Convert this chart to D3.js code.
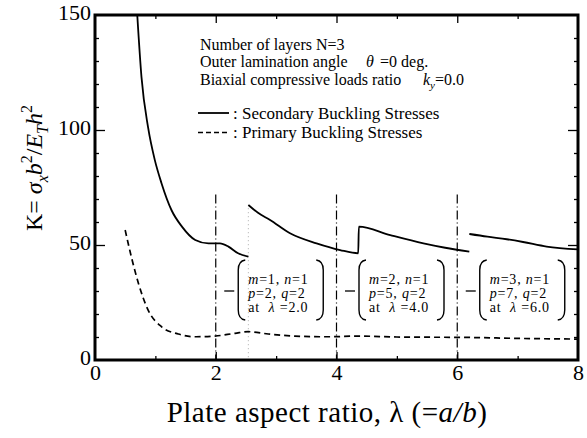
<!DOCTYPE html>
<html>
<head>
<meta charset="utf-8">
<script src="https://cdn.jsdelivr.net/npm/d3@7"></script>
<style>
  body { margin: 0; background: #fff; }
  svg { display: block; font-family: "Liberation Serif", "Times New Roman", serif; }
</style>
</head>
<body>
<div id="chart"></div>
<script>
// secondary buckling curve (lambda, K)
const seg1X = [0.70, 0.77, 0.88, 0.99, 1.10, 1.27, 1.44, 1.66, 1.88, 2.07, 2.21, 2.37, 2.54];
const seg1K = [150, 123, 101, 87, 77, 65, 58, 52.2, 50.7, 50.7, 49.3, 46.4, 44.9];
const seg2X = [2.54, 2.70, 2.90, 3.23, 3.67, 4.06, 4.36, 4.37, 4.89, 5.44, 5.80, 6.20];
const seg2K = [67.4, 64.0, 60.9, 55.1, 50.7, 47.8, 46.4, 58.0, 54.3, 50.7, 48.8, 47.1];
const seg4X = [6.20, 6.50, 6.82, 7.09, 7.48, 8.00];
const seg4K = [54.8, 53.6, 52.5, 51.3, 49.3, 48.1];

// primary buckling curve
const primX = [0.50, 0.61, 0.72, 0.88, 1.10, 1.38, 1.66, 1.99, 2.32, 2.54, 2.87, 3.31, 3.86, 4.37, 5.0, 6.2, 7.0, 8.0];
const primK = [56.5, 44, 33.3, 21.7, 14.5, 11.3, 10.1, 10.4, 11.6, 12.3, 11.3, 10.4, 10.1, 10.4, 10.0, 9.8, 9.4, 9.1];

// mode boxes
const boxLambda = [2, 4, 6];
const boxM = [1, 2, 3];
const boxN = [1, 1, 1];
const boxP = [2, 5, 7];
const boxQ = [2, 2, 2];

const xTicks = [0, 2, 4, 6, 8];
const yTicks = [0, 50, 100, 150];

const W = 587, H = 438;
const svg = d3.select('#chart').append('svg').attr('width', W).attr('height', H);

const x = d3.scaleLinear().domain([0, 8]).range([95, 578]);
const y = d3.scaleLinear().domain([0, 150]).range([360, 15]);

const line = d3.line().x(d => x(d[0])).y(d => y(d[1])).curve(d3.curveMonotoneX);
const zip = (a, b) => a.map((v, i) => [v, b[i]]);

// ticks (inward, all four sides)
function ticks(axis, tr, vals, size) {
  svg.append('g').attr('transform', tr)
    .call(axis.tickValues(vals).tickSize(size).tickFormat(''))
    .call(g => g.select('.domain').remove())
    .selectAll('line').attr('stroke', '#000').attr('stroke-width', 1.3);
}
const yMinor = d3.range(10, 150, 10).filter(v => v % 50);
ticks(d3.axisLeft(y), 'translate(95,0)', yMinor, -4);
ticks(d3.axisLeft(y), 'translate(95,0)', [50, 100], -10);
ticks(d3.axisRight(y), 'translate(578,0)', yMinor, -4);
ticks(d3.axisRight(y), 'translate(578,0)', [50, 100], -10);
ticks(d3.axisBottom(x), 'translate(0,360)', [1, 3, 5, 7], -4);
ticks(d3.axisBottom(x), 'translate(0,360)', [2, 4, 6], -8);
ticks(d3.axisTop(x), 'translate(0,15)', [1, 3, 5, 7], -4);
ticks(d3.axisTop(x), 'translate(0,15)', [2, 4, 6], -8);

// tick labels
svg.append('g').attr('transform', 'translate(95,0)')
  .call(d3.axisLeft(y).tickValues(yTicks).tickSize(0).tickPadding(4))
  .call(g => g.select('.domain').remove())
  .selectAll('text').attr('font-size', 22).attr('font-family', '"Liberation Serif", serif')
  .attr('fill', '#000').attr('dy', '0.22em');
svg.append('g').attr('transform', 'translate(0,360)')
  .call(d3.axisBottom(x).tickValues(xTicks).tickSize(0).tickPadding(4))
  .call(g => g.select('.domain').remove())
  .selectAll('text').attr('font-size', 22).attr('font-family', '"Liberation Serif", serif')
  .attr('fill', '#000');

// vertical reference lines at lambda = 2, 4, 6
svg.selectAll('.vref').data(boxLambda).enter().append('line')
  .attr('x1', d => x(d)).attr('x2', d => x(d))
  .attr('y1', y(72)).attr('y2', y(0))
  .attr('stroke', '#000').attr('stroke-width', 1.2)
  .attr('stroke-dasharray', '9,3,1,3');
svg.append('line')
  .attr('x1', x(2.54)).attr('x2', x(2.54)).attr('y1', y(66)).attr('y2', y(0))
  .attr('stroke', '#999').attr('stroke-width', 0.8).attr('stroke-dasharray', '1,3');

// curves
[zip(seg1X, seg1K), zip(seg2X, seg2K), zip(seg4X, seg4K)].forEach(s => {
  svg.append('path').attr('d', line(s)).attr('fill', 'none')
    .attr('stroke', '#000').attr('stroke-width', 1.8);
});
svg.append('path').attr('d', line(zip(primX, primK))).attr('fill', 'none')
  .attr('stroke', '#000').attr('stroke-width', 1.7).attr('stroke-dasharray', '6,4');

// frame
svg.append('rect').attr('x', 95).attr('y', 15).attr('width', 483).attr('height', 345)
  .attr('fill', 'none').attr('stroke', '#000').attr('stroke-width', 3);

// mode boxes
const boxTop = 260, boxBot = 320, bw = 85;
boxLambda.forEach((lam, i) => {
  const x0 = x(lam) + 22.5, x1 = x0 + bw;
  const g = svg.append('g');
  g.append('path')
    .attr('d', `M${x0 + 7},${boxTop} Q${x0},${boxTop + 1} ${x0},${boxTop + 10} L${x0},${boxBot - 10} Q${x0},${boxBot - 1} ${x0 + 7},${boxBot}` +
      `M${x1 - 7},${boxTop} Q${x1},${boxTop + 1} ${x1},${boxTop + 10} L${x1},${boxBot - 10} Q${x1},${boxBot - 1} ${x1 - 7},${boxBot}`)
    .attr('fill', 'none').attr('stroke', '#000').attr('stroke-width', 1.4);
  g.append('line').attr('x1', x0 - 14).attr('x2', x0 - 4).attr('y1', 291).attr('y2', 291)
    .attr('stroke', '#000').attr('stroke-width', 1.3);
  const rows = [
    [['m', 1], ['=' + boxM[i] + ', ', 0], ['n', 1], ['=' + boxN[i], 0]],
    [['p', 1], ['=' + boxP[i] + ', ', 0], ['q', 1], ['=' + boxQ[i], 0]],
    [['at  ', 0], ['λ', 1], [' =' + lam.toFixed(1), 0]]
  ];
  rows.forEach((r, j) => {
    const t = g.append('text').attr('x', x0 + 10).attr('y', 284 + j * 14)
      .attr('font-size', 14).attr('letter-spacing', 0.8).attr('xml:space', 'preserve');
    r.forEach(p => t.append('tspan').text(p[0]).attr('font-style', p[1] ? 'italic' : 'normal'));
  });
});

// notes and legend
const notes = svg.append('g').attr('font-size', 16);
notes.append('text').attr('x', 200).attr('y', 49.5).text('Number of layers N=3');
notes.append('text').attr('x', 200).attr('y', 67).text('Outer lamination angle');
notes.append('text').attr('x', 366).attr('y', 67).attr('font-style', 'italic').text('θ');
notes.append('text').attr('x', 380).attr('y', 67).text('=0 deg.');
notes.append('text').attr('x', 200).attr('y', 84.5).text('Biaxial compressive loads ratio');
const n3 = notes.append('text').attr('x', 423).attr('y', 84.5);
n3.append('tspan').attr('font-style', 'italic').text('k');
n3.append('tspan').attr('font-style', 'italic').attr('font-size', 11).attr('dy', 4).text('y');
n3.append('tspan').attr('dy', -4).text('=0.0');

const leg = svg.append('g').attr('font-size', 17);
leg.append('line').attr('x1', 198).attr('x2', 229).attr('y1', 113).attr('y2', 113)
  .attr('stroke', '#000').attr('stroke-width', 1.8);
leg.append('text').attr('x', 233).attr('y', 118.5).text(': Secondary Buckling Stresses');
leg.append('line').attr('x1', 198).attr('x2', 229).attr('y1', 132.5).attr('y2', 132.5)
  .attr('stroke', '#000').attr('stroke-width', 1.7).attr('stroke-dasharray', '5,3');
leg.append('text').attr('x', 233).attr('y', 138).text(': Primary Buckling Stresses');

// axis titles
const xt = svg.append('text').attr('x', 327).attr('y', 422).attr('text-anchor', 'middle')
  .attr('font-size', 29).attr('letter-spacing', 0.5);
xt.append('tspan').text('Plate aspect ratio, λ (=');
xt.append('tspan').attr('font-style', 'italic').text('a/b');
xt.append('tspan').text(')');

const yt = svg.append('text').attr('transform', 'translate(42,168) rotate(-90)')
  .attr('text-anchor', 'middle').attr('font-size', 24);
yt.append('tspan').text('K= ');
yt.append('tspan').attr('font-style', 'italic').text('σ');
yt.append('tspan').attr('font-style', 'italic').attr('font-size', 16).attr('dy', 6).text('x');
yt.append('tspan').attr('font-style', 'italic').attr('dy', -6).text('b');
yt.append('tspan').attr('font-size', 16).attr('dy', -10).text('2');
yt.append('tspan').attr('dy', 10).text('/');
yt.append('tspan').attr('font-style', 'italic').text('E');
yt.append('tspan').attr('font-style', 'italic').attr('font-size', 16).attr('dy', 6).text('T');
yt.append('tspan').attr('font-style', 'italic').attr('dy', -6).text('h');
yt.append('tspan').attr('font-size', 16).attr('dy', -10).text('2');
</script>
</body>
</html>
